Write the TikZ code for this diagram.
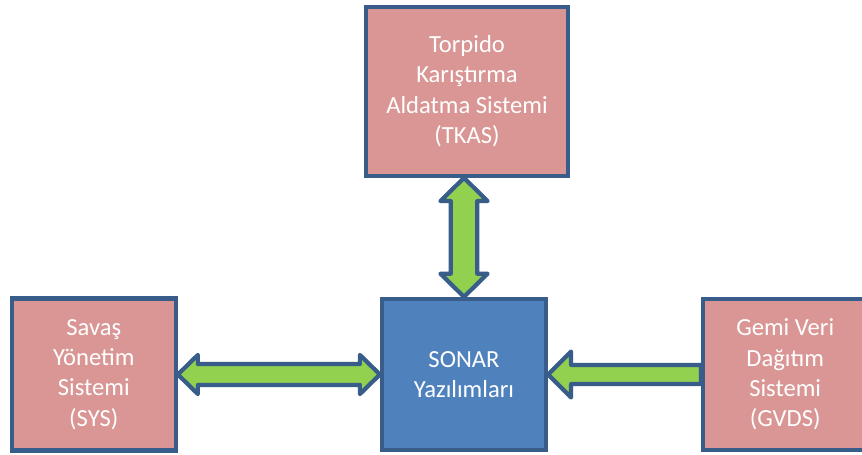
\documentclass[tikz,border=0pt]{standalone}
\usepackage{fontspec}
\setmainfont{Carlito}
\usepackage{tikz}
\usetikzlibrary{positioning,calc}

\definecolor{boxline}{HTML}{385D8A}
\definecolor{pinkfill}{HTML}{D99694}
\definecolor{sonarfill}{HTML}{4F81BD}
\definecolor{arrowgreen}{HTML}{92D050}

\tikzset{
  sysbox/.style={rectangle,draw=boxline,line width=3pt,fill=pinkfill,text=white,align=center,
    font=\fontsize{17.5}{21.5}\selectfont,minimum width=4.1cm,minimum height=3.8cm},
  fatarrow/.style={draw=boxline,line width=3pt,fill=arrowgreen,line join=round}
}

\begin{document}
\begin{tikzpicture}
	\useasboundingbox (-11.6,-2.0125) rectangle (9.95,9.3625);

	\node[sysbox,fill=sonarfill,minimum height=3.775cm] (sonar) at (0,0) {SONAR\\ Yazılımları};
	\node[sysbox,above =2.975cm of sonar,xshift=0.075cm,minimum width=5.05cm,minimum height=4.225cm] (tkas) {Torpido\\ Karıştırma\\ Aldatma Sistemi\\ (TKAS)};
	\node[sysbox,left =5.05cm of sonar] (sys) {Savaş\\ Yönetim\\ Sistemi\\ (SYS)};
	\node[sysbox,right =3.825cm of sonar,minimum height=3.775cm] (gvds) {Gemi Veri\\ Dağıtım\\ Sistemi\\ (GVDS)};

	% TKAS <-> SONAR
	\draw[fatarrow] (sonar.north |- tkas.south) -- ($(sonar.north |- tkas.south)+(0.59,-0.58)$) -- ($(sonar.north |- tkas.south)+(0.33,-0.58)$)
		-- ($(sonar.north)+(0.33,0.58)$) -- ($(sonar.north)+(0.59,0.58)$) -- (sonar.north)
		-- ($(sonar.north)+(-0.59,0.58)$) -- ($(sonar.north)+(-0.33,0.58)$)
		-- ($(sonar.north |- tkas.south)+(-0.33,-0.58)$) -- ($(sonar.north |- tkas.south)+(-0.59,-0.58)$) -- cycle;

	% SYS <-> SONAR
	\draw[fatarrow] (sys.east) -- ($(sys.east)+(0.5,0.49)$) -- ($(sys.east)+(0.5,0.26)$)
		-- ($(sonar.west)+(-0.5,0.26)$) -- ($(sonar.west)+(-0.5,0.49)$) -- (sonar.west)
		-- ($(sonar.west)+(-0.5,-0.49)$) -- ($(sonar.west)+(-0.5,-0.26)$)
		-- ($(sys.east)+(0.5,-0.26)$) -- ($(sys.east)+(0.5,-0.49)$) -- cycle;

	% GVDS -> SONAR
	\draw[fatarrow] (gvds.west) -- ($(gvds.west)+(0,0.24)$) -- ($(sonar.east)+(0.575,0.24)$)
		-- ($(sonar.east)+(0.575,0.575)$) -- (sonar.east) -- ($(sonar.east)+(0.575,-0.575)$)
		-- ($(sonar.east)+(0.575,-0.24)$) -- ($(gvds.west)+(0,-0.24)$) -- cycle;
\end{tikzpicture}
\end{document}
